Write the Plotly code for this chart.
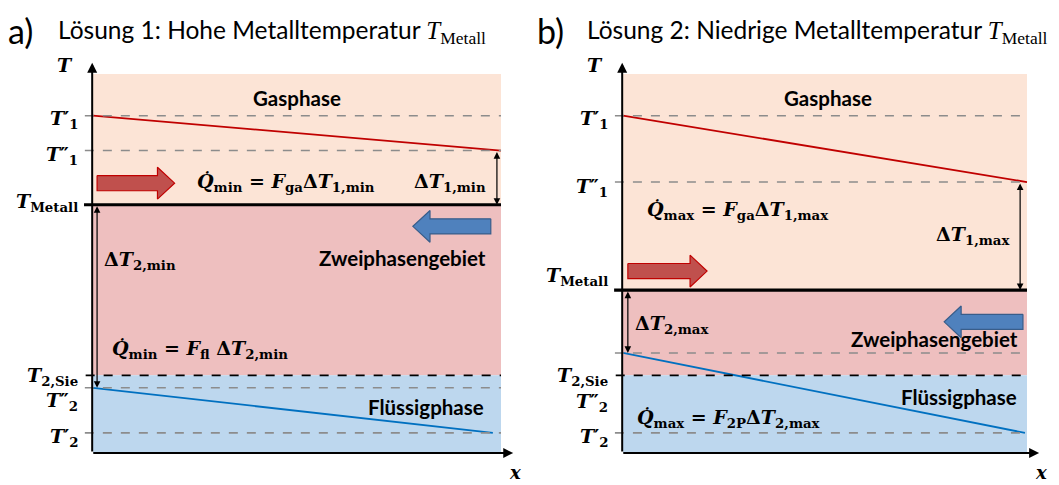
import plotly.graph_objects as go

W, H = 1059, 485

# ---------------- data (schematic temperature levels) ----------------
x_pos = [0.0, 1.0]                 # inlet / outlet along x
region_top = 100.0
t2_sie = 20.5                      # saturation temperature T_2,Sie
# Solution a (high metal temperature)
gas_a = [89.0, 79.8]               # T'_1 -> T''_1
liq_a = [17.2, 5.3]                # T''_2 -> T'_2
metall_a = 65.5
# Solution b (low metal temperature)
gas_b = [89.0, 71.5]
liq_b = [26.4, 5.3]
metall_b = 43.0

# ---------------- layout geometry ----------------
PX_Y = 3.79        # px per T unit
Y0_PX = 453        # pixel row of T = 0
YR = [-7.5, 107]
XR = [-0.2, 1.06]
panels = [dict(x0=93, sx=408, xa="x", ya="y"), dict(x0=623, sx=404, xa="x2", ya="y2")]

def xdom(p):
    l = p["x0"] + XR[0] * p["sx"]
    r = p["x0"] + XR[1] * p["sx"]
    return [l / W, r / W]

ytop_px = Y0_PX - YR[1] * PX_Y
ybot_px = Y0_PX - YR[0] * PX_Y
ydom = [(H - ybot_px) / H, (H - ytop_px) / H]

C_GAS = "#FCE4D6"
C_TWO = "#EEBFBF"
C_LIQ = "#BDD7EE"
C_RED = "#C00000"
C_BLUE = "#0070C0"
C_GRAY = "#8C8C8C"

SERIF = "DejaVu Serif"
SANS = "Lato"
MS = 19   # math font size
LS = 19   # left label size
RS = 20.5 # region label size

fig = go.Figure()
shapes, annos = [], []

def block_arrow(xr, yr, x_tail, x_tip, yc, color, line):
    hb, hh = 2.0, 4.2
    d = 1 if x_tip > x_tail else -1
    xh = x_tip - d * 0.042
    xs = [x_tail, xh, xh, x_tip, xh, xh, x_tail, x_tail]
    ys = [yc + hb, yc + hb, yc + hh, yc, yc - hh, yc - hb, yc - hb, yc + hb]
    fig.add_trace(go.Scatter(x=xs, y=ys, xaxis=xr, yaxis=yr, mode="lines", fill="toself",
                             fillcolor=color, line=dict(color=line, width=1.2),
                             hoverinfo="skip", showlegend=False))

def dim_arrow(xr, yr, x, y1, y2):
    annos.append(dict(xref=xr, yref=yr, axref=xr, ayref=yr, x=x, y=y2, ax=x, ay=y1,
                      text="", showarrow=True, arrowhead=2, arrowsize=1.1, arrowwidth=1.2,
                      arrowside="end+start", arrowcolor="black"))

def txt(xr, yr, x, y, s, size=MS, family=SERIF, xanchor="left", yanchor="middle"):
    annos.append(dict(xref=xr, yref=yr, x=x, y=y, text=s, showarrow=False, xanchor=xanchor,
                      yanchor=yanchor, font=dict(family=family, size=size, color="black")))

def hline(xr, yr, y, color, dash, width, x0=-0.02, x1=1.0):
    shapes.append(dict(type="line", xref=xr, yref=yr, x0=x0, x1=x1, y0=y, y1=y,
                       line=dict(color=color, dash=dash, width=width), layer="above"))

QD = "Q\u0307"
def T(sub=""):
    return "<b><i>T</i></b>" + (f"<sub><b>{sub}</b></sub>" if sub else "")

def TP(primes, idx):
    return "<b><i>T</i></b><b>" + primes + "</b><sub><b>" + idx + "</b></sub>"

def Q(tag, f, dt, sp=""):
    return (f"<b><i>{QD}</i></b><sub><b>{tag}</b></sub><b> = </b><b><i>F</i></b>"
            f"<sub><b>{f}</b></sub><b>{sp}Δ</b>{T(dt)}")

panel_data = [
    dict(gas=gas_a, liq=liq_a, met=metall_a),
    dict(gas=gas_b, liq=liq_b, met=metall_b),
]

for i, (p, d) in enumerate(zip(panels, panel_data)):
    xr, yr = p["xa"], p["ya"]
    shapes.append(dict(type="rect", xref=xr, yref=yr, x0=0, x1=1, y0=d["met"], y1=region_top,
                       fillcolor=C_GAS, line=dict(width=0), layer="below"))
    shapes.append(dict(type="rect", xref=xr, yref=yr, x0=0, x1=1, y0=t2_sie, y1=d["met"],
                       fillcolor=C_TWO, line=dict(width=0), layer="below"))
    shapes.append(dict(type="rect", xref=xr, yref=yr, x0=0, x1=1, y0=0, y1=t2_sie,
                       fillcolor=C_LIQ, line=dict(width=0), layer="below"))
    for lv in [d["gas"][0], d["gas"][1], d["liq"][0], d["liq"][1]]:
        hline(xr, yr, lv, C_GRAY, "dash", 1.6)
    hline(xr, yr, t2_sie, "black", "dash", 1.8, x0=-0.018)
    hline(xr, yr, d["met"], "black", "solid", 3.2, x0=-0.022)
    fig.add_trace(go.Scatter(x=x_pos, y=d["gas"], xaxis=xr, yaxis=yr, mode="lines",
                             line=dict(color=C_RED, width=1.8), showlegend=False, hoverinfo="skip"))
    fig.add_trace(go.Scatter(x=[x_pos[0], x_pos[1] - (0.02 if i == 0 else 0.005)], y=d["liq"],
                             xaxis=xr, yaxis=yr, mode="lines",
                             line=dict(color=C_BLUE, width=1.8), showlegend=False, hoverinfo="skip"))
    annos.append(dict(xref=xr, yref=yr, axref=xr, ayref=yr, x=-0.002, y=103, ax=-0.002, ay=0,
                      text="", showarrow=True, arrowhead=2, arrowsize=1, arrowwidth=2, arrowcolor="black"))
    annos.append(dict(xref=xr, yref=yr, axref=xr, ayref=yr, x=1.03, y=0, ax=-0.003, ay=0,
                      text="", showarrow=True, arrowhead=2, arrowsize=1, arrowwidth=2, arrowcolor="black"))

LX = -0.032
# ---- panel a annotations ----
xa, ya = "x", "y"
block_arrow(xa, ya, 0.01, 0.2, 71.2, "#C0504D", "#C00000")
block_arrow(xa, ya, 0.975, 0.784, 59.8, "#4F81BD", "#385D8A")
dim_arrow(xa, ya, 0.99, gas_a[1], metall_a)
dim_arrow(xa, ya, 0.01, metall_a, liq_a[0])
txt(xa, ya, 0.5, 93.6, "<b>Gasphase</b>", RS, SANS, "center")
txt(xa, ya, 0.968, 51.5, "<b>Zweiphasengebiet</b>", RS, SANS, "right")
txt(xa, ya, 0.963, 12.1, "<b>Flüssigphase</b>", RS, SANS, "right")
txt(xa, ya, 0.25, 71.4, Q("min", "ga", "1,min"))
txt(xa, ya, 0.968, 71.4, f"<b>Δ</b>{T('1,min')}", xanchor="right")
txt(xa, ya, 0.022, 50.9, f"<b>Δ</b>{T('2,min')}")
txt(xa, ya, 0.042, 27.2, Q("min", "fl", "2,min", " "))
txt(xa, ya, -0.045, 102.5, T(), LS, xanchor="right")
txt(xa, ya, LX, 88.0, TP("′", "1"), LS, xanchor="right")
txt(xa, ya, LX, 78.6, TP("″", "1"), LS, xanchor="right")
txt(xa, ya, LX, 66.0, T("Metall"), LS, xanchor="right")
txt(xa, ya, LX, 20.3, T("2,Sie"), LS, xanchor="right")
txt(xa, ya, LX, 13.6, TP("″", "2"), LS, xanchor="right")
txt(xa, ya, LX, 4.0, TP("′", "2"), LS, xanchor="right")
txt(xa, ya, 1.035, -5.2, "<b><i>x</i></b>", 18, xanchor="center")

# ---- panel b annotations ----
xb, yb = "x2", "y2"
block_arrow(xb, yb, 0.012, 0.208, 48.0, "#C0504D", "#C00000")
block_arrow(xb, yb, 0.99, 0.795, 34.6, "#4F81BD", "#385D8A")
dim_arrow(xb, yb, 0.983, gas_b[1], metall_b)
dim_arrow(xb, yb, 0.012, metall_b, liq_b[0])
txt(xb, yb, 0.507, 93.6, "<b>Gasphase</b>", RS, SANS, "center")
txt(xb, yb, 0.983, 30.1, "<b>Zweiphasengebiet</b>", RS, SANS, "right")
txt(xb, yb, 0.98, 14.8, "<b>Flüssigphase</b>", RS, SANS, "right")
txt(xb, yb, 0.054, 64.1, Q("max", "ga", "1,max"))
txt(xb, yb, 0.963, 57.5, f"<b>Δ</b>{T('1,max')}", xanchor="right")
txt(xb, yb, 0.025, 33.8, f"<b>Δ</b>{T('2,max')}")
txt(xb, yb, 0.03, 9.2, Q("max", "2P", "2,max"))
txt(xb, yb, -0.045, 102.5, T(), LS, xanchor="right")
txt(xb, yb, LX, 88.0, TP("′", "1"), LS, xanchor="right")
txt(xb, yb, LX, 70.0, TP("″", "1"), LS, xanchor="right")
txt(xb, yb, LX, 46.5, T("Metall"), LS, xanchor="right")
txt(xb, yb, LX, 20.2, T("2,Sie"), LS, xanchor="right")
txt(xb, yb, LX, 13.4, TP("″", "2"), LS, xanchor="right")
txt(xb, yb, LX, 4.0, TP("′", "2"), LS, xanchor="right")
txt(xb, yb, 1.035, -5.2, "<b><i>x</i></b>", 18, xanchor="center")

# ---- titles ----
TSPAN = "<span style='font-family:Liberation Serif;font-size:25px'><i>T</i><sub>Metall</sub></span>"
annos.append(dict(xref="paper", yref="paper", x=6 / W, y=1 - 30 / H, xanchor="left", yanchor="middle",
                  text="a)", showarrow=False, font=dict(family=SANS, size=34, color="black")))
annos.append(dict(xref="paper", yref="paper", x=56 / W, y=1 - 32 / H, xanchor="left", yanchor="middle",
                  text="Lösung 1: Hohe Metalltemperatur " + TSPAN,
                  showarrow=False, font=dict(family=SANS, size=24.5, color="black")))
annos.append(dict(xref="paper", yref="paper", x=535 / W, y=1 - 30 / H, xanchor="left", yanchor="middle",
                  text="b)", showarrow=False, font=dict(family=SANS, size=34, color="black")))
annos.append(dict(xref="paper", yref="paper", x=585 / W, y=1 - 32 / H, xanchor="left", yanchor="middle",
                  text="Lösung 2: Niedrige Metalltemperatur " + TSPAN,
                  showarrow=False, font=dict(family=SANS, size=24.5, color="black")))

ax_common = dict(visible=False, showgrid=False, zeroline=False, fixedrange=True)
fig.update_layout(
    width=W, height=H, margin=dict(l=0, r=0, t=0, b=0),
    paper_bgcolor="white", plot_bgcolor="rgba(0,0,0,0)",
    xaxis=dict(domain=xdom(panels[0]), range=XR, anchor="y", **ax_common),
    yaxis=dict(domain=ydom, range=YR, anchor="x", **ax_common),
    xaxis2=dict(domain=xdom(panels[1]), range=XR, anchor="y2", **ax_common),
    yaxis2=dict(domain=ydom, range=YR, anchor="x2", **ax_common),
    shapes=shapes, annotations=annos, showlegend=False,
)

fig.write_html("out.html", config={"displayModeBar": False},
               post_script="document.body.style.margin='0';document.body.style.overflow='hidden';")
